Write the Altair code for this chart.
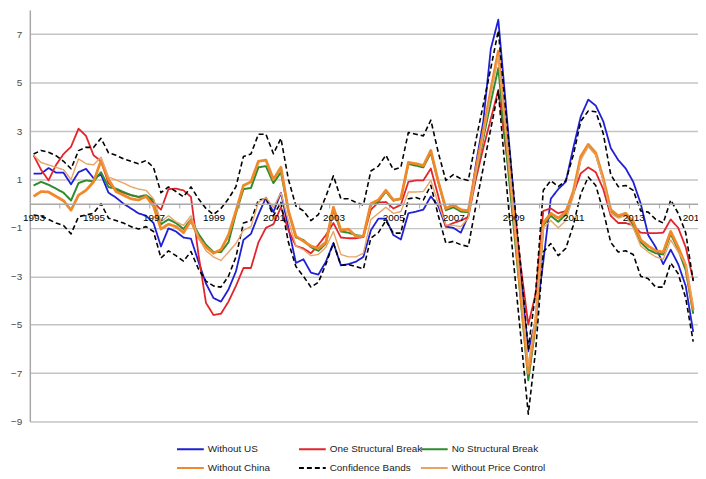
import altair as alt
import pandas as pd

# ---------------- data (quarterly, 1993Q1 .. 2015Q1) ----------------
start_year = 1993
series_names = ["Without US", "One Structural Break", "No Structural Break",
                "Without China", "Confidence Bands", "Without Price Control"]
series_colors = ["#1f1fd6", "#e3242b", "#2e8b2e", "#f0892a", "#000000", "#e8a466"]

without_us = [1.24, 1.24, 1.47, 1.28, 1.28, 0.8, 1.3, 1.44, 1.05, 1.2,
              0.45, 0.25, 0.0, -0.2, -0.4, -0.5, -0.8, -1.77, -1.02, -1.15,
              -1.4, -1.45, -2.4, -3.3, -3.9, -4.05, -3.55, -2.8, -1.5, -1.25,
              -0.45, 0.25, -0.35, 0.45, -1.0, -2.45, -2.3, -2.85, -2.93, -2.4,
              -1.63, -2.55, -2.5, -2.4, -2.2, -1.1, -0.62, -0.62, -1.3, -1.48,
              -0.4, -0.33, -0.25, 0.3, -0.1, -0.95, -1.0, -1.2, -0.5, 1.6,
              3.4, 6.4, 7.6, 4.1, 0.5, -3.0, -6.1, -4.8, -2.4, 0.2,
              0.6, 0.9, 2.3, 3.6, 4.3, 4.05, 3.4, 2.3, 1.8, 1.45,
              0.9, 0.0, -1.3, -1.8, -2.5, -1.9, -2.5, -3.4, -5.3]

one_break = [2.0, 1.4, 0.96, 1.6, 2.05, 2.35, 3.1, 2.8, 2.0, 1.75,
             0.85, 0.55, 0.45, 0.35, 0.28, 0.3, 0.05, -0.25, 0.6, 0.62,
             0.55, 0.28, -2.1, -4.1, -4.6, -4.55, -4.05, -3.4, -2.66, -2.66,
             -1.6, -1.0, -0.85, -0.15, -1.1, -1.75, -1.85, -2.05, -1.7, -1.3,
             -0.8, -1.4, -1.43, -1.43, -1.38, -0.25, 0.05, 0.07, -0.2, -0.05,
             0.9, 0.96, 0.96, 1.45, 0.3, -0.95, -0.8, -0.7, -0.55, 1.0,
             2.3, 3.5, 4.7, 2.3, -0.1, -2.6, -5.0, -3.7, -0.3, -0.2,
             -0.4, -0.3, 0.4, 1.25, 1.5, 1.3, 0.6, -0.5, -0.8, -0.8,
             -0.9, -1.2, -1.22, -1.22, -1.2, -0.65, -1.0, -1.8, -3.15]

no_break = [0.75, 0.9, 0.78, 0.62, 0.45, 0.13, 0.85, 0.96, 0.92, 1.3,
            0.68, 0.62, 0.48, 0.35, 0.28, 0.35, 0.14, -0.85, -0.65, -0.8,
            -1.05, -0.65, -1.25, -1.7, -2.0, -2.0, -1.6, -0.4, 0.6, 0.65,
            1.5, 1.55, 0.85, 1.3, -0.3, -1.4, -1.5, -1.8, -1.95, -1.65,
            -0.25, -1.15, -1.2, -1.3, -1.35, -0.05, 0.08, 0.5, 0.12, 0.2,
            1.64, 1.57, 1.5, 2.1, 0.9, -0.27, -0.15, -0.33, -0.35, 1.2,
            2.7, 4.2, 5.6, 2.4, -0.8, -4.0, -7.3, -5.0, -0.9, -0.5,
            -0.75, -0.45, 0.4, 1.9, 2.4, 2.05, 1.0, -0.3, -0.55, -0.4,
            -0.9, -1.6, -1.9, -2.05, -2.1, -1.25, -1.9, -2.75, -4.55]

without_china = [0.3, 0.5, 0.48, 0.3, 0.12, -0.27, 0.35, 0.55, 0.9, 1.78,
                 1.0, 0.5, 0.35, 0.2, 0.15, 0.3, -0.1, -1.05, -0.85, -0.95,
                 -1.2, -0.7, -1.4, -1.8, -2.05, -1.9, -1.3, -0.3, 0.75, 0.9,
                 1.75, 1.8, 1.0, 1.5, -0.3, -1.35, -1.55, -1.75, -1.85, -1.6,
                 -0.15, -1.1, -1.05, -1.35, -1.35, 0.0, 0.15, 0.55, 0.15, 0.2,
                 1.7, 1.65, 1.57, 2.2, 0.9, -0.2, -0.05, -0.25, -0.3, 1.4,
                 3.0, 4.7, 6.3, 3.0, -0.3, -3.8, -7.0, -4.8, -0.8, -0.4,
                 -0.6, -0.35, 0.5, 1.95, 2.45, 2.1, 1.05, -0.25, -0.5, -0.4,
                 -0.75, -1.5, -1.75, -1.95, -2.0, -1.15, -1.8, -2.55, -4.4]

cb_upper = [2.05, 2.2, 2.12, 1.98, 1.75, 1.44, 2.19, 2.33, 2.32, 2.7,
            2.1, 2.0, 1.85, 1.75, 1.65, 1.78, 1.5, 0.45, 0.69, 0.5,
            0.28, 0.69, 0.2, -0.2, -0.45, -0.2, 0.2, 0.7, 1.95, 2.05,
            2.87, 2.87, 2.06, 2.7, 1.0, -0.1, -0.3, -0.7, -0.45, 0.3,
            1.15, 0.2, 0.2, 0.05, -0.06, 1.35, 1.55, 2.0, 1.4, 1.5,
            2.94, 2.87, 2.8, 3.45, 2.1, 0.96, 1.2, 1.03, 0.96, 2.6,
            4.1, 5.6, 7.15, 3.8, 0.6, -2.6, -6.0, -3.6, 0.55, 0.95,
            0.7, 0.95, 2.0, 3.4, 3.83, 3.8, 2.9, 1.2, 0.7, 0.75,
            0.55, -0.3, -0.35, -0.65, -0.8, 0.15, -0.4, -1.2, -3.2]

cb_lower = [-0.47, -0.52, -0.65, -0.8, -0.9, -1.25, -0.54, -0.47, -0.4, 0.0,
            -0.6, -0.7, -0.8, -0.95, -1.05, -0.95, -1.15, -2.25, -1.95, -2.15,
            -2.38, -1.98, -2.7, -3.2, -3.4, -3.45, -3.0, -2.2, -0.8, -0.7,
            0.15, 0.2, -0.5, 0.05, -1.6, -2.6, -3.0, -3.45, -3.25, -2.5,
            -1.63, -2.55, -2.52, -2.6, -2.7, -1.42, -1.2, -0.7, -1.22, -1.22,
            0.2, 0.25, 0.15, 0.76, -0.5, -1.63, -1.56, -1.7, -1.77, -0.1,
            1.5, 3.1, 4.65, 1.1, -2.3, -5.5, -8.7, -6.0, -2.0, -1.65,
            -2.15, -1.85, -0.9, 0.4, 1.1, 0.75, -0.3, -1.6, -2.0, -1.95,
            -2.1, -3.0, -3.1, -3.45, -3.45, -2.45, -2.9, -3.9, -5.7]

without_price = [2.0, 1.7, 1.6, 1.5, 1.4, 1.0, 1.85, 1.65, 1.6, 1.92,
                 1.1, 0.98, 0.85, 0.7, 0.6, 0.55, 0.2, -0.75, -0.5, -0.75,
                 -0.9, -0.5, -1.4, -1.95, -2.2, -2.35, -2.0, -1.65, -1.1, -0.95,
                 0.05, 0.25, -0.15, 0.45, -0.7, -1.75, -1.9, -2.15, -2.1, -1.8,
                 -1.15, -2.1, -2.2, -2.2, -2.05, -0.65, -0.4, -0.15, -0.4, -0.33,
                 0.48, 0.48, 0.5, 0.96, 0.0, -0.88, -0.9, -0.95, -0.6, 1.2,
                 2.8, 4.5, 6.1, 2.9, -0.3, -3.5, -6.7, -4.6, -1.0, -0.7,
                 -1.0, -0.7, 0.3, 1.8, 2.35, 2.0, 0.95, -0.4, -0.6, -0.5,
                 -1.0, -1.75, -2.0, -2.2, -2.3, -1.5, -2.0, -2.5, -4.2]

year_labels = [1993, 1995, 1997, 1999, 2001, 2003, 2005, 2007, 2009, 2011, 2013, 2015]
y_ticks = [-9, -7, -5, -3, -1, 1, 3, 5, 7]

# ---------------- build long table ----------------
lines = [
    ("Without US", "main", without_us),
    ("One Structural Break", "main", one_break),
    ("No Structural Break", "main", no_break),
    ("Without China", "main", without_china),
    ("Confidence Bands", "upper", cb_upper),
    ("Confidence Bands", "lower", cb_lower),
    ("Without Price Control", "main", without_price),
]
rows = []
for name, band, vals in lines:
    assert len(vals) == 89, (name, band, len(vals))
    for i, v in enumerate(vals):
        rows.append({"t": start_year + i / 4.0, "value": v, "series": name, "band": band})
df = pd.DataFrame(rows)

# minor ticks on the zero line (one per year, between categories)
tick_df = pd.DataFrame({"t": [start_year - 0.125 + k for k in range(1, 23)]})
tick_df["y0"] = 0.0
tick_df["y1"] = -0.2

# ---------------- layout ----------------
W, H = 674, 415
y_min, y_max = -9, 8
x_lo, x_hi = start_year - 0.125, 2015.16
zero_offset = -(H - H * (y_max - 0) / (y_max - y_min))
FONT = "Liberation Sans"

x_scale = alt.Scale(domain=[x_lo, x_hi], nice=False, zero=False)
y_scale = alt.Scale(domain=[y_min, y_max], nice=False, zero=False)

x_axis = alt.Axis(values=year_labels, format="d", labelFlush=False, labelOverlap=False,
                  ticks=False, tickSize=0, grid=False, domainColor="#a8a8a8",
                  domainWidth=1.5, offset=zero_offset, labelPadding=9, labelFontSize=10,
                  labelColor="#000000", labelFont=FONT, title=None, zindex=1)
y_axis = alt.Axis(values=y_ticks, grid=True, gridColor="#c4c4c4", gridWidth=1.5,
                  ticks=False, tickSize=0, domainColor="#a8a8a8", domainWidth=1.5,
                  labelPadding=8, labelFontSize=10, labelColor="#4a4a4a",
                  labelFont=FONT, title=None)

legend = alt.Legend(title=None, orient="none", legendX=152, legendY=433, columns=3,
                    direction="horizontal", gridAlign="all", columnPadding=-7,
                    rowPadding=4, padding=0,
                    symbolType="M-1.5,0L1.5,0", symbolSize=324, symbolStrokeWidth=2,
                    labelOffset=7.5, labelFontSize=10, labelFont=FONT,
                    labelColor="#222222")

color_enc = alt.Color("series:N", scale=alt.Scale(domain=series_names, range=series_colors),
                      legend=legend)
dash_enc = alt.StrokeDash("series:N",
                          scale=alt.Scale(domain=series_names,
                                          range=[[1, 0], [1, 0], [1, 0], [1, 0], [5, 3], [1, 0]]),
                          legend=legend)

x_enc = alt.X("t:Q", scale=x_scale, axis=x_axis)

ticks_layer = alt.Chart(tick_df).mark_rule(color="#a8a8a8", strokeWidth=1).encode(
    x=x_enc,
    y=alt.Y("y0:Q", scale=y_scale, axis=y_axis),
    y2="y1:Q",
)

widths = {"Without US": 1.8, "One Structural Break": 1.8, "No Structural Break": 2.0,
          "Without China": 2.8, "Confidence Bands": 1.6, "Without Price Control": 1.4}

layers = [ticks_layer]
for name in series_names:
    layers.append(
        alt.Chart(df[df["series"] == name]).mark_line(
            strokeWidth=widths[name], strokeJoin="round"
        ).encode(
            x=x_enc,
            y=alt.Y("value:Q", scale=y_scale, axis=y_axis),
            color=color_enc,
            strokeDash=dash_enc,
            detail="band:N",
            order="t:Q",
        )
    )

chart = alt.layer(*layers).properties(
    width=W, height=H,
    padding={"left": 22, "top": 0, "right": 0, "bottom": 55},
    autosize=alt.AutoSizeParams(type="none"),
    background="white",
).configure_view(stroke=None)

chart.save("out.html", embed_options={"renderer": "svg", "actions": False})
